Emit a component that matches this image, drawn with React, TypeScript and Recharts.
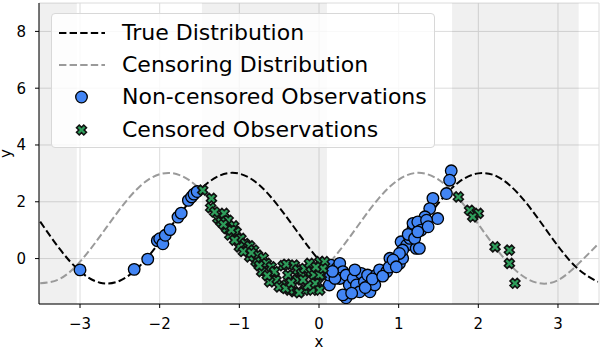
import React from 'react';
import { ComposedChart, Line, Scatter, XAxis, YAxis, CartesianGrid, ReferenceArea } from 'recharts';

const curveX = [-3.5, -3.25, -3.0, -2.75, -2.5, -2.25, -2.0, -1.75, -1.5, -1.25, -1.0, -0.75, -0.5, -0.25, 0, 0.25, 0.5, 0.75, 1.0, 1.25, 1.5, 1.75, 2.0, 2.25, 2.5, 2.75, 3.0, 3.25, 3.5];
const trueY = [1.3, 0.32, -0.45, -0.85, -0.78, -0.26, 0.59, 1.55, 2.4, 2.92, 2.99, 2.59, 1.81, 0.86, -0.05, -0.68, -0.88, -0.61, 0.08, 1.01, 1.95, 2.68, 3.0, 2.87, 2.29, 1.41, 0.44, -0.36, -0.82];
const censY = [-0.87, -0.71, -0.11, 0.78, 1.74, 2.54, 2.97, 2.94, 2.46, 1.63, 0.67, -0.2, -0.76, -0.86, -0.5, 0.25, 1.2, 2.12, 2.78, 3.02, 2.78, 2.13, 1.21, 0.26, -0.49, -0.86, -0.76, -0.2, 0.5];

const nonCensored: [number, number][] = [
  [-3.0, -0.4], [-2.32, -0.38], [-2.15, -0.02], [-2.03, 0.63], [-2.0, 0.7], [-1.96, 0.52], [-1.93, 0.82],
  [-1.87, 1.02], [-1.77, 1.46], [-1.73, 1.6], [-1.64, 2.05], [-1.6, 2.17], [-1.57, 2.27], [-1.53, 2.36],
  [0.15, -0.23], [0.22, -0.35], [0.26, -0.17], [0.3, -0.46], [0.13, -0.93], [0.26, -0.7], [0.34, -0.58],
  [0.38, -0.93], [0.43, -0.7], [0.47, -0.93], [0.51, -1.17], [0.53, -0.52], [0.57, -0.82], [0.61, -0.58],
  [0.64, -1.17], [0.7, -0.93], [0.72, -0.58], [0.76, -0.4], [0.85, -0.46], [0.89, 0.01], [0.93, -0.23],
  [1.01, -0.17], [1.05, 0.01], [1.03, 0.59], [1.1, 0.47], [1.14, 0.71], [1.18, 1.06], [1.22, 0.36],
  [0.34, -1.38], [0.3, -1.28], [0.41, -1.22], [0.13, -0.58], [0.2, -0.7], [0.17, -0.45], [0.45, -0.4],
  [0.58, -1.02], [0.67, -0.72], [0.8, -0.62], [0.88, -0.3], [1.12, 0.85],
  [1.66, 3.09], [1.64, 2.76], [1.6, 2.29], [1.43, 2.12], [1.49, 1.41], [1.39, 1.76], [1.33, 1.47],
  [1.18, 1.24], [1.24, 1.29], [1.28, 1.0], [1.2, 0.71], [1.26, 0.36], [1.05, 0.3], [1.01, 0.18],
  [0.93, -0.05], [0.97, -0.29], [1.35, 1.35], [1.37, 1.12], [1.24, 0.94],
];

const censored: [number, number][] = [
  [-1.46, 2.41], [-1.35, 2.12], [-1.36, 1.79], [-1.27, 1.41], [-1.19, 1.59], [-1.14, 1.35], [-1.07, 1.15],
  [-1.04, 0.94], [-1.12, 0.83], [-0.98, 0.71], [-0.93, 0.53], [-0.87, 0.45], [-0.82, 0.3], [-0.77, 0.12],
  [-0.7, 0.03], [-0.66, -0.17], [-0.6, -0.29], [-0.56, -0.46], [-0.45, -0.25], [-0.41, -0.2], [-0.39, -0.58],
  [-0.31, -0.23], [-0.27, -0.4], [-0.22, -0.52], [-0.18, -0.35], [-0.12, -0.17], [-0.1, -0.46], [-0.06, -0.58],
  [-0.31, -1.17], [-0.37, -1.11], [-0.18, -1.11], [-0.08, -1.11], [-0.02, -0.87], [0.01, -0.11], [0.03, -0.58],
  [-0.54, -0.76], [-0.47, -0.93], [-0.62, -0.82], [-0.72, -0.46], [-0.79, -0.11], [-0.87, 0.06], [-1.0, 0.41],
  [-1.06, 0.65], [-1.16, 1.06], [-1.23, 1.29], [-1.31, 1.64],
  [0.07, -0.11], [0.01, -0.58], [-0.05, -0.87], [0.05, -0.35], [0.01, -1.11],
  [-0.5, -1.0], [-0.42, -1.05], [-0.25, -1.2], [-0.14, -0.95], [-0.28, -0.75], [-0.65, -0.6], [-0.95, 0.25],
  [-1.1, 1.0], [-1.2, 1.2], [-0.85, 0.2], [-0.75, -0.25], [-0.35, -0.85], [-0.2, -0.75], [-0.04, -0.3],
  [1.75, 2.17], [1.89, 1.7], [2.0, 1.59], [1.93, 1.47], [2.21, 0.41], [2.39, 0.3], [2.39, -0.17], [2.46, -0.87],
];

const xTicks = [-3, -2, -1, 0, 1, 2, 3];
const yTicks = [0, 2, 4, 6, 8];
const shadedBands: [number, number][] = [[-3.515, -3.04], [-1.47, 0.1], [1.67, 3.26]];
const legendLabels = ['True Distribution', 'Censoring Distribution', 'Non-censored Observations', 'Censored Observations'];

const trueData = curveX.map((x, i) => ({ x, y: trueY[i] }));
const censData = curveX.map((x, i) => ({ x, y: censY[i] }));
const blueData = nonCensored.map(([x, y]) => ({ x, y }));
const greenData = censored.map(([x, y]) => ({ x, y }));

const BLUE = '#4285F4';
const GREEN = '#2E9E5B';
const FONT = 'DejaVu Sans';

function xPath(cx: number, cy: number, s = 5.1, t = 1.9) {
  const pts: [number, number][] = [
    [t, s], [t, t], [s, t], [s, -t], [t, -t], [t, -s], [-t, -s], [-t, -t], [-s, -t], [-s, t], [-t, t], [-t, s],
  ];
  const c = Math.SQRT1_2;
  return pts
    .map(([px, py], i) => `${i === 0 ? 'M' : 'L'}${(cx + (px - py) * c).toFixed(2)},${(cy + (px + py) * c).toFixed(2)}`)
    .join(' ') + ' Z';
}

const Circle = (p: any) => <circle cx={p.cx} cy={p.cy} r={5.8} fill={BLUE} stroke="#000" strokeWidth={1.3} />;
const Cross = (p: any) => <path d={xPath(p.cx, p.cy)} fill={GREEN} stroke="#111" strokeWidth={1.6} />;

const fmt = (v: number) => (v < 0 ? '\u2212' + Math.abs(v) : String(v));

export default function App() {
  const rowCenters = [19, 50.5, 83, 116];
  return (
    <div style={{ position: 'absolute', left: 0, top: 0, width: 600, height: 350, fontFamily: FONT }}>
      <ComposedChart width={600} height={350} margin={{ top: 3, right: 1, bottom: 0, left: 0 }}>
        <CartesianGrid stroke="#dcdcdc" strokeWidth={1} vertical horizontal />
        <XAxis
          dataKey="x"
          type="number"
          domain={[-3.515, 3.515]}
          ticks={xTicks}
          allowDataOverflow
          height={46}
          tickSize={4}
          tickMargin={10}
          tickFormatter={fmt}
          tick={{ fill: '#000', fontSize: 15, fontFamily: FONT }}
          tickLine={{ stroke: '#000' }}
          axisLine={{ stroke: '#000' }}
          label={{ value: 'x', position: 'insideBottom', offset: 3, fill: '#000', fontSize: 15, fontFamily: FONT }}
        />
        <YAxis
          dataKey="y"
          type="number"
          domain={[-1.6, 9.0]}
          ticks={yTicks}
          allowDataOverflow
          width={39}
          tickSize={4}
          tickMargin={9}
          tickFormatter={fmt}
          tick={{ fill: '#000', fontSize: 15, fontFamily: FONT }}
          tickLine={{ stroke: '#000' }}
          axisLine={{ stroke: '#000' }}
          label={{
            content: () => (
              <text x={11} y={153.5} transform="rotate(-90 11 153.5)" textAnchor="middle" fontSize={15} fontFamily={FONT} fill="#000">
                y
              </text>
            ),
          }}
        />
        <XAxis xAxisId="top" orientation="top" type="number" domain={[-3.515, 3.515]} height={0} tick={false} tickLine={false} axisLine={{ stroke: '#000' }} />
        <YAxis yAxisId="right" orientation="right" type="number" domain={[-1.6, 9.0]} width={0} tick={false} tickLine={false} axisLine={{ stroke: '#000' }} />
        {shadedBands.map(([a, b], i) => (
          <ReferenceArea key={i} x1={a} x2={b} fill="#000" fillOpacity={0.06} stroke="none" ifOverflow="hidden" />
        ))}
        <Scatter data={blueData} dataKey="y" shape={Circle} isAnimationActive={false} />
        <Scatter data={greenData} dataKey="y" shape={Cross} isAnimationActive={false} />
        <Line data={trueData} dataKey="y" type="natural" stroke="#000" strokeWidth={2} strokeDasharray="7.4 3.2" dot={false} activeDot={false} isAnimationActive={false} />
        <Line data={censData} dataKey="y" type="natural" stroke="#9a9a9a" strokeWidth={2} strokeDasharray="7.4 3.2" dot={false} activeDot={false} isAnimationActive={false} />
      </ComposedChart>
      <div
        style={{
          position: 'absolute',
          left: 51,
          top: 13,
          width: 384,
          height: 135,
          boxSizing: 'border-box',
          background: 'rgba(255,255,255,0.82)',
          border: '1px solid #d8d8d8',
          borderRadius: 4,
        }}
      >
        {legendLabels.map((label, i) => (
          <div key={label} style={{ position: 'absolute', left: 0, top: rowCenters[i] - 16, height: 32, width: 384 }}>
            <svg width={60} height={32} style={{ position: 'absolute', left: 0, top: 0 }}>
              {i === 0 && <line x1={7} y1={16} x2={53} y2={16} stroke="#000" strokeWidth={2} strokeDasharray="7.4 3.2" />}
              {i === 1 && <line x1={7} y1={16} x2={53} y2={16} stroke="#9a9a9a" strokeWidth={2} strokeDasharray="7.4 3.2" />}
              {i === 2 && <circle cx={29.5} cy={16} r={5.8} fill={BLUE} stroke="#000" strokeWidth={1.3} />}
              {i === 3 && <path d={xPath(29.5, 16)} fill={GREEN} stroke="#111" strokeWidth={1.6} />}
            </svg>
            <span
              style={{
                position: 'absolute',
                left: 70,
                top: 0,
                lineHeight: '32px',
                fontSize: 22,
                fontFamily: FONT,
                color: '#000',
                whiteSpace: 'nowrap',
              }}
            >
              {label}
            </span>
          </div>
        ))}
      </div>
    </div>
  );
}
